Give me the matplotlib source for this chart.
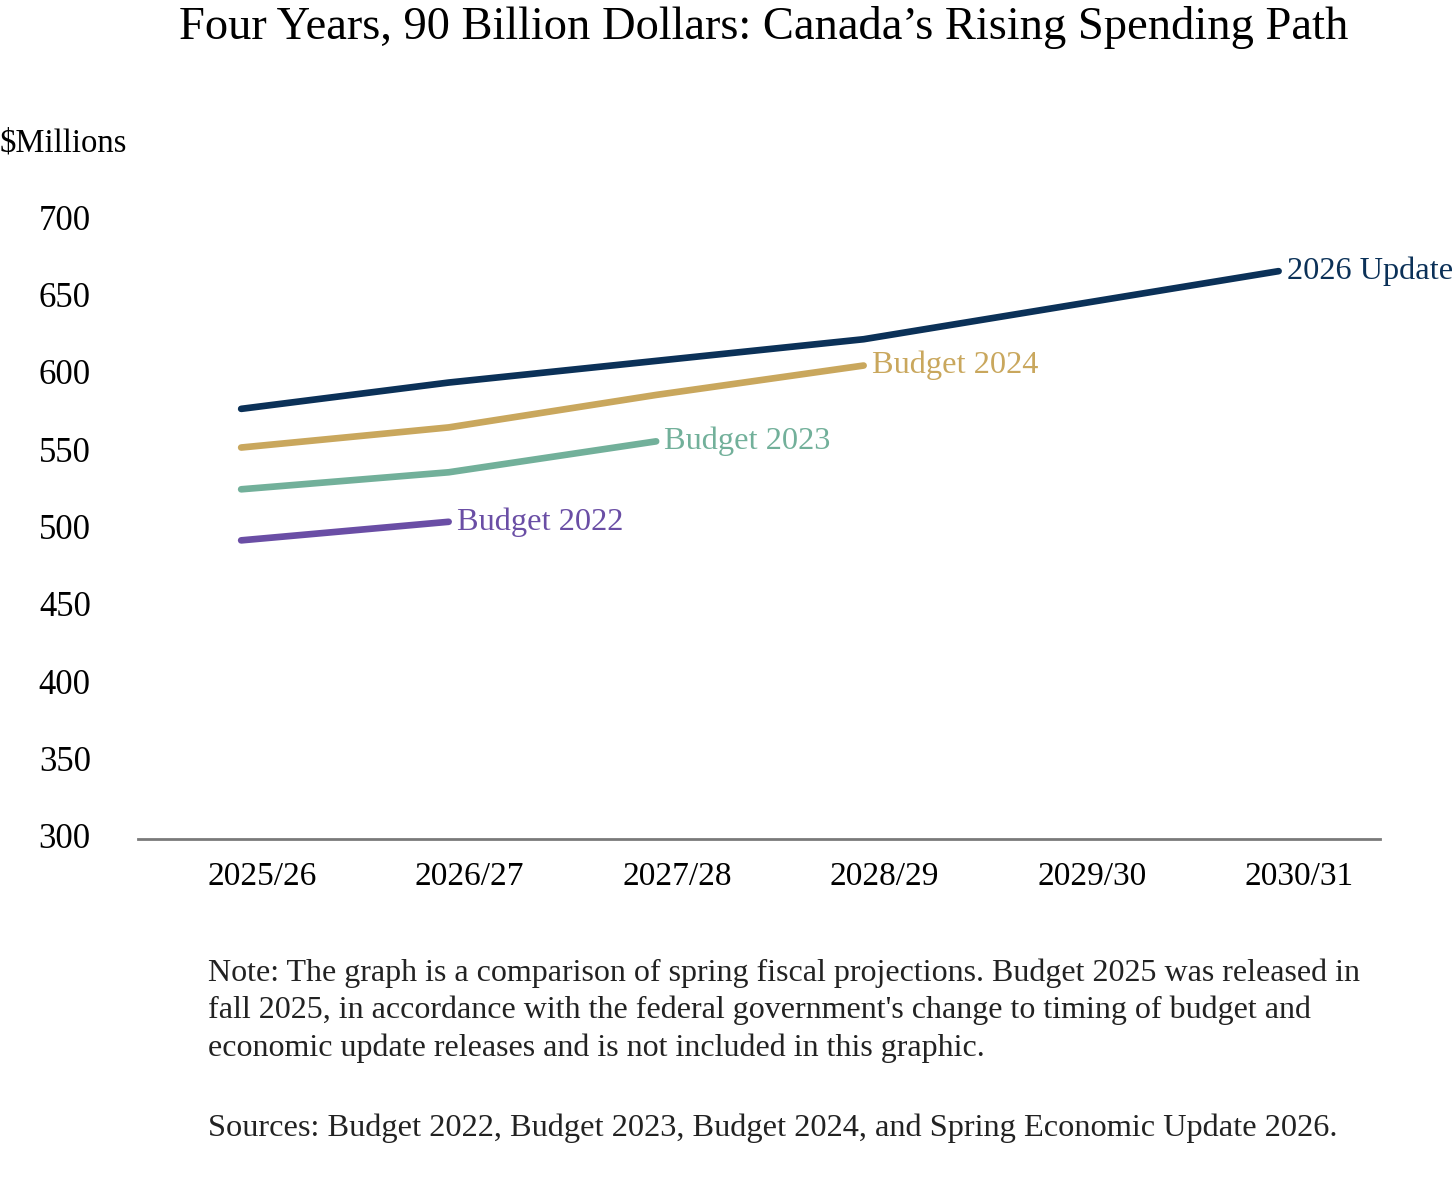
import matplotlib.pyplot as plt

plt.rcParams['font.family'] = ['Liberation Serif', 'DejaVu Serif']

years = ["2025/26", "2026/27", "2027/28", "2028/29", "2029/30", "2030/31"]

update_2026 = [576, 593, 607, 621, 643, 665]
budget_2024 = [551, 564, 585, 604]
budget_2023 = [524, 535, 555]
budget_2022 = [491, 503]

series = [
    ("2026 Update", update_2026, "#0b3158"),
    ("Budget 2024", budget_2024, "#c9a75d"),
    ("Budget 2023", budget_2023, "#72b09a"),
    ("Budget 2022", budget_2022, "#6a4ea5"),
]

fig = plt.figure(figsize=(14.56, 11.77), dpi=100)
ax = fig.add_axes([0.0948, 0.2872, 0.8532, 0.5442])

for name, vals, col in series:
    xs = list(range(len(vals)))
    ax.plot(xs, vals, color=col, lw=4.8, solid_capstyle="round",
            solid_joinstyle="round")
    ax.annotate(name, (xs[-1], vals[-1]), xytext=(6, 0),
                textcoords="offset points", va="center", ha="left",
                color=col, fontsize=23.3, annotation_clip=False)

ax.set_xlim(-0.497, 5.49)
ax.set_ylim(298, 712)
ax.set_yticks(range(300, 701, 50))
ax.set_xticks([i + 0.1 for i in range(len(years))])
ax.set_xticklabels(years)
ax.tick_params(axis="both", length=0, labelsize=24)
ax.tick_params(axis="y", labelsize=25, pad=34)
ax.tick_params(axis="x", pad=16)

for s in ["top", "right", "left"]:
    ax.spines[s].set_visible(False)
ax.spines["bottom"].set_color("#7a7a7a")
ax.spines["bottom"].set_linewidth(2)

fig.text(764 / 1456, 0.977, "Four Years, 90 Billion Dollars: Canada\u2019s Rising Spending Path",
         ha="center", va="center", fontsize=33.5)
fig.text(0.0, 1 - 143 / 1177, "$Millions", ha="left", va="center", fontsize=23.5)

note = ("Note: The graph is a comparison of spring fiscal projections. Budget 2025 was released in\n"
        "fall 2025, in accordance with the federal government's change to timing of budget and\n"
        "economic update releases and is not included in this graphic.")
fig.text(0.143, 1 - 958 / 1177, note, ha="left", va="top", fontsize=23,
         linespacing=1.37, color="#222222")
fig.text(0.143, 1 - 1128 / 1177,
         "Sources: Budget 2022, Budget 2023, Budget 2024, and Spring Economic Update 2026.",
         ha="left", va="center", fontsize=23.3, color="#222222")

fig.savefig("out.png", dpi=100, facecolor="white")
